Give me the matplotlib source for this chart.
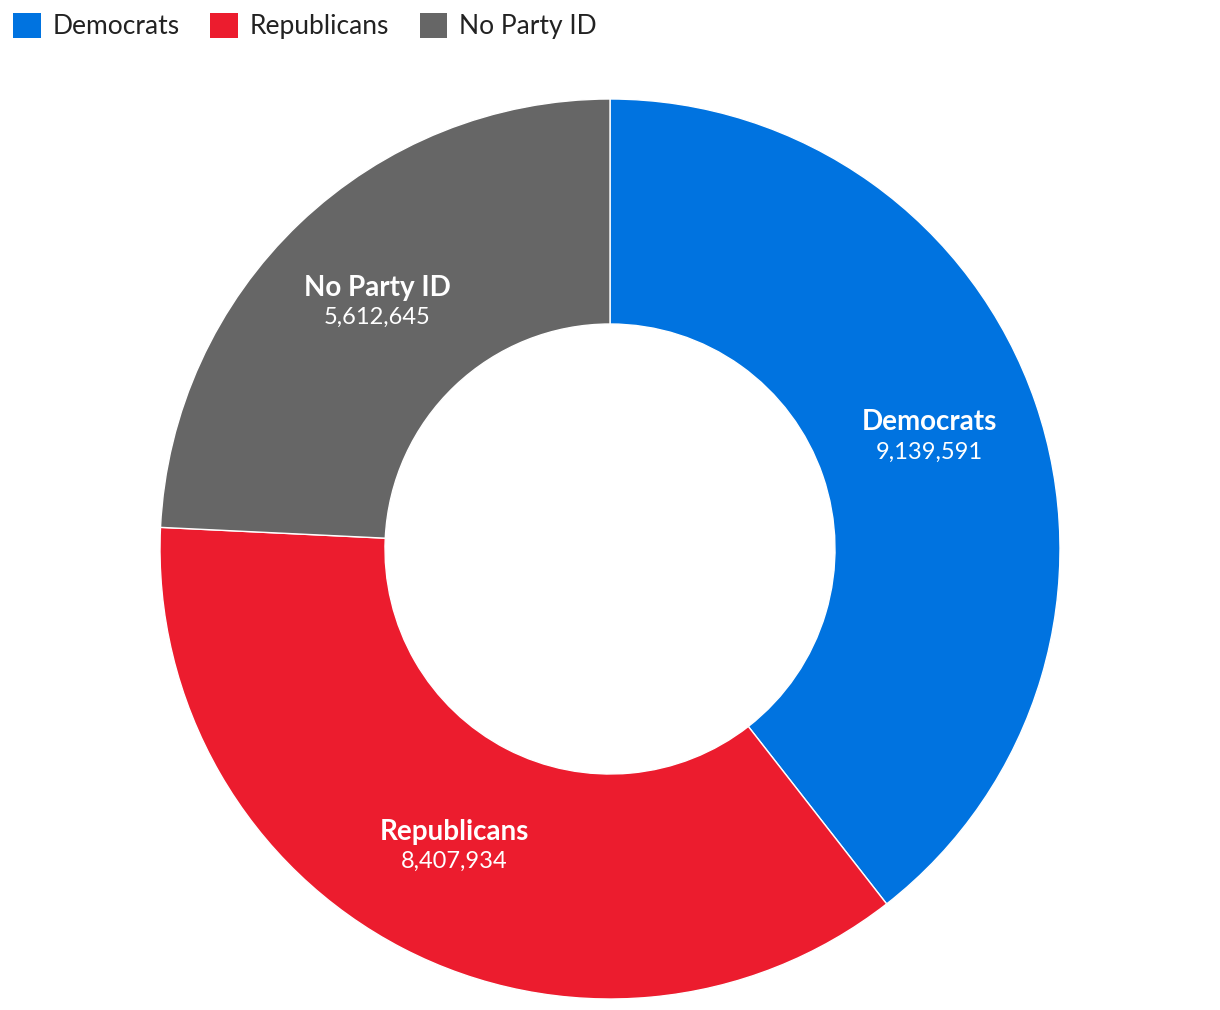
import matplotlib
matplotlib.use("Agg")
import matplotlib.pyplot as plt
from matplotlib.patches import Patch
import numpy as np

categories = ["Democrats", "Republicans", "No Party ID"]
values = [9139591, 8407934, 5612645]
colors = ["#0073E0", "#EC1C2E", "#666666"]

plt.rcParams['font.family'] = ['Lato', 'DejaVu Sans']

W, H = 1220, 1010
fig = plt.figure(figsize=(W / 100, H / 100), dpi=100)
ax = fig.add_axes([0, 0, 1, 1])

cx, cy = 610, H - 549
R, w = 450, 225
wedges, _ = ax.pie(values, colors=colors, startangle=90, counterclock=False,
                   center=(cx, cy), radius=R, frame=True,
                   wedgeprops=dict(width=w, edgecolor='white', linewidth=1))
ax.set_xlim(0, W)
ax.set_ylim(0, H)
ax.set_aspect('equal')
ax.axis('off')

for wdg, name, v in zip(wedges, categories, values):
    ang = np.deg2rad((wdg.theta1 + wdg.theta2) / 2)
    r = R - w / 2
    x = cx + r * np.cos(ang)
    y = cy + r * np.sin(ang)
    ax.text(x, y + 17, name, ha='center', va='center', color='white',
            fontsize=20, fontweight='bold')
    ax.text(x, y - 13, f"{v:,}", ha='center', va='center', color='white',
            fontsize=17)

handles = [Patch(facecolor=c, edgecolor='none') for c in colors]
fig.legend(handles, categories, loc='upper left', bbox_to_anchor=(0.0, 1.0),
           ncol=3, frameon=False, fontsize=19, handlelength=1.05, handleheight=1.05,
           handletextpad=0.45, columnspacing=1.15, borderaxespad=0.0,
           borderpad=0.5, labelcolor='#222222')

fig.savefig("out.png", dpi=100)
